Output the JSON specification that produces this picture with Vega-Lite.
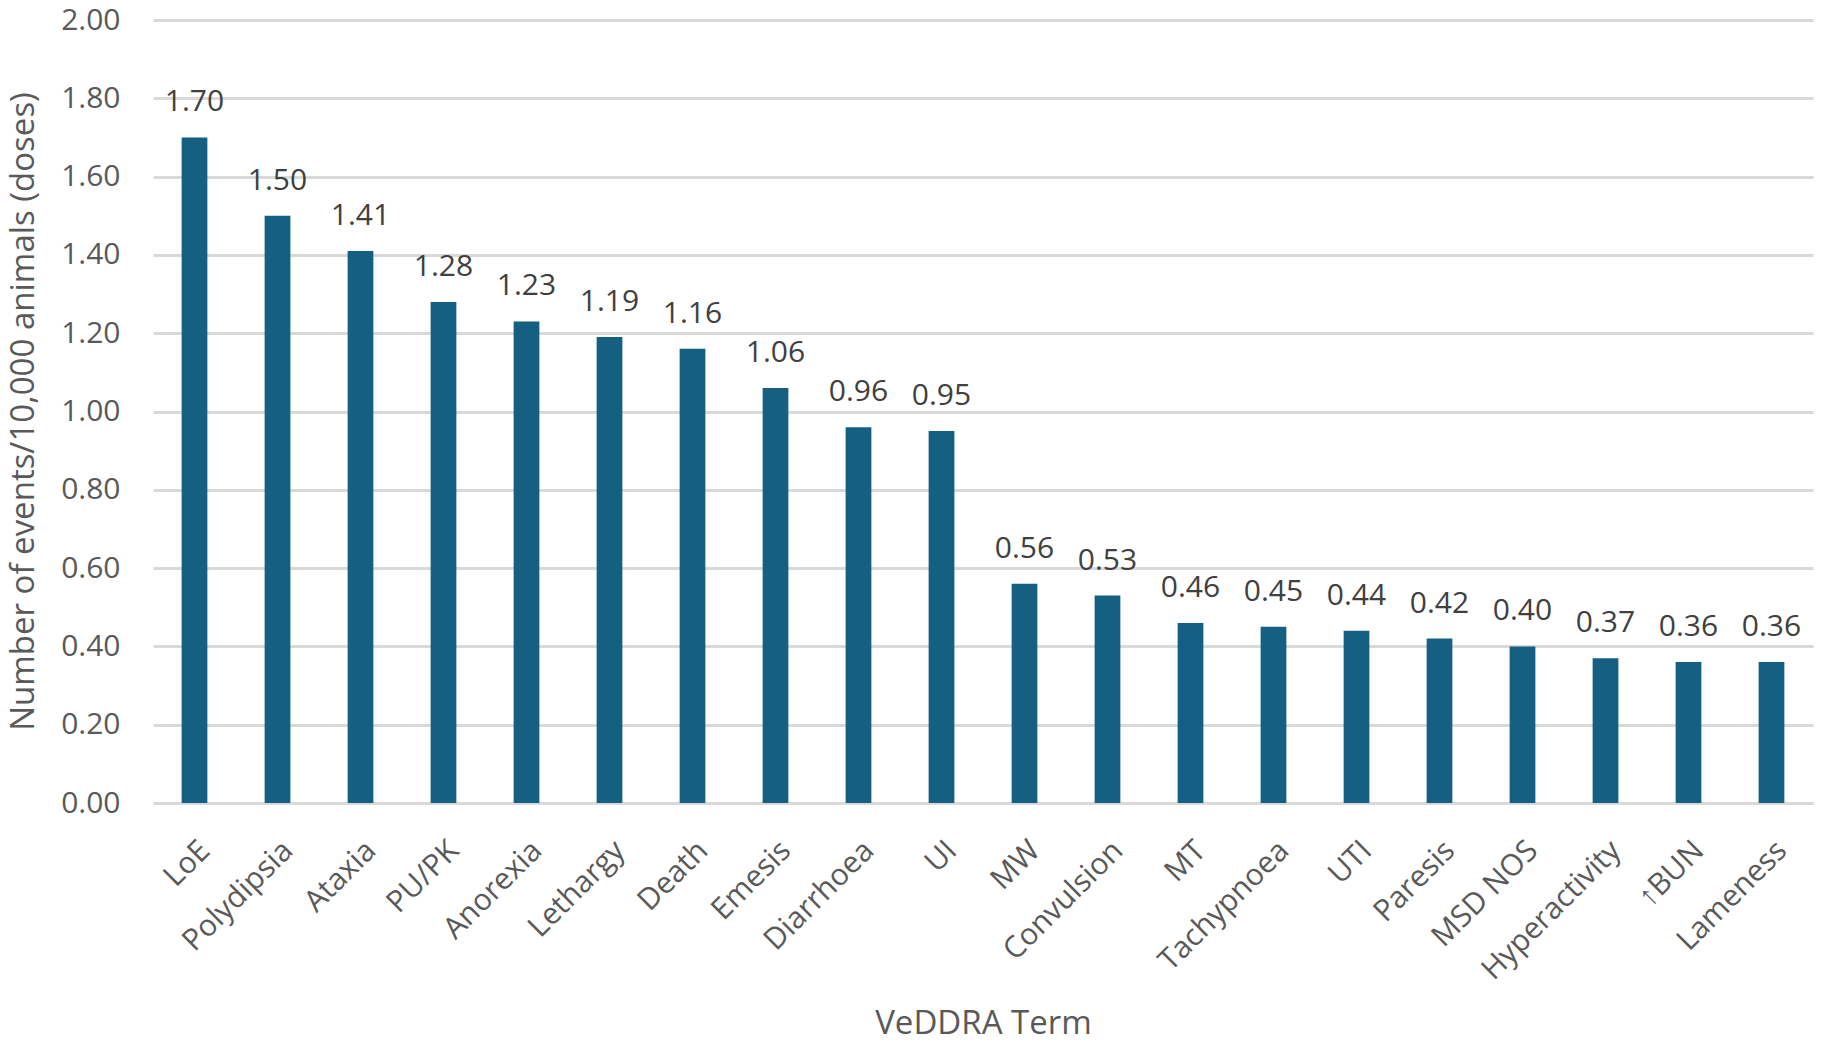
{
  "$schema": "https://vega.github.io/schema/vega-lite/v6.json",
  "description": "Events per 10,000 animals by VeDDRA term",
  "autosize": "none",
  "padding": {"left": 153, "top": 20, "right": 8, "bottom": 240},
  "width": 1660,
  "height": 783,
  "background": "white",
  "config": {
    "view": {"stroke": null},
    "font": "Open Sans",
    "axis": {"labelColor": "#595959", "titleColor": "#595959", "titleFontWeight": "normal"}
  },
  "data": {
    "values": [
      {"term": "LoE", "rate": 1.70},
      {"term": "Polydipsia", "rate": 1.50},
      {"term": "Ataxia", "rate": 1.41},
      {"term": "PU/PK", "rate": 1.28},
      {"term": "Anorexia", "rate": 1.23},
      {"term": "Lethargy", "rate": 1.19},
      {"term": "Death", "rate": 1.16},
      {"term": "Emesis", "rate": 1.06},
      {"term": "Diarrhoea", "rate": 0.96},
      {"term": "UI", "rate": 0.95},
      {"term": "MW", "rate": 0.56},
      {"term": "Convulsion", "rate": 0.53},
      {"term": "MT", "rate": 0.46},
      {"term": "Tachypnoea", "rate": 0.45},
      {"term": "UTI", "rate": 0.44},
      {"term": "Paresis", "rate": 0.42},
      {"term": "MSD NOS", "rate": 0.40},
      {"term": "Hyperactivity", "rate": 0.37},
      {"term": "↑BUN", "rate": 0.36},
      {"term": "Lameness", "rate": 0.36}
    ]
  },
  "encoding": {
    "x": {
      "field": "term",
      "type": "nominal",
      "sort": null,
      "scale": {"paddingInner": 0.69, "paddingOuter": 0.345},
      "axis": {
        "title": "VeDDRA Term",
        "titleFontSize": 33,
        "titleBaseline": "middle",
        "titleY": 220,
        "labelAngle": -45,
        "labelAlign": "right",
        "labelBaseline": "top",
        "labelPadding": 32,
        "labelDx": 1,
        "labelFontSize": 30,
        "labelLimit": 400,
        "ticks": false,
        "domainColor": "#d9d9d9",
        "domainWidth": 3,
        "labelOverlap": false
      }
    },
    "y": {
      "field": "rate",
      "type": "quantitative",
      "scale": {"domain": [0, 2]},
      "axis": {
        "title": "Number of events/10,000 animals (doses)",
        "titleFontSize": 33,
        "titleBaseline": "middle",
        "titleX": -130,
        "titleY": 391,
        "values": [0, 0.2, 0.4, 0.6, 0.8, 1.0, 1.2, 1.4, 1.6, 1.8, 2.0],
        "format": ".2f",
        "labelFontSize": 30,
        "labelPadding": 33,
        "ticks": false,
        "domain": false,
        "gridColor": "#d9d9d9",
        "gridWidth": 3
      }
    }
  },
  "layer": [
    {"mark": {"type": "bar", "color": "#155F82"}},
    {
      "mark": {"type": "text", "baseline": "alphabetic", "dy": -26, "fontSize": 30, "color": "#404040"},
      "encoding": {"text": {"field": "rate", "type": "quantitative", "format": ".2f"}}
    }
  ]
}
